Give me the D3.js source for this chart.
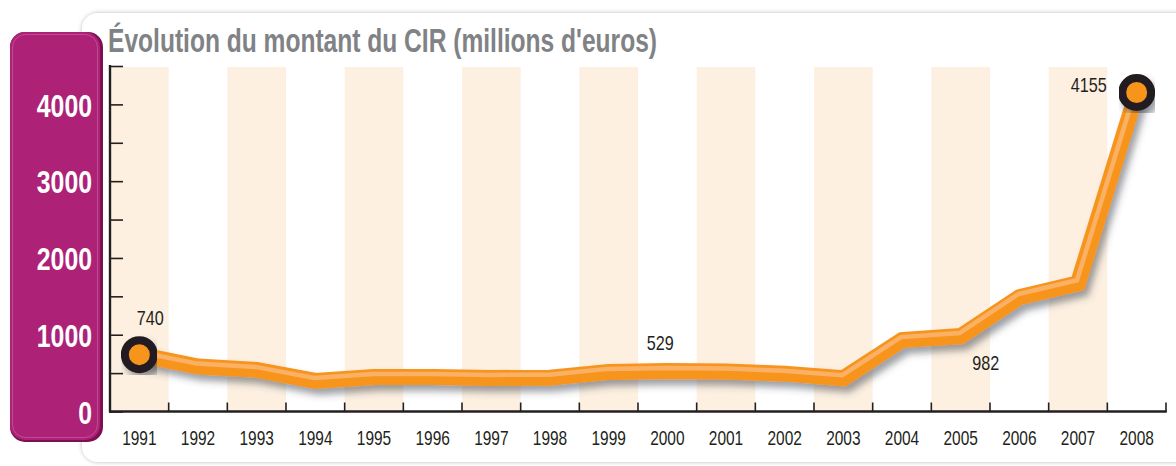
<!DOCTYPE html>
<html lang="fr">
<head>
<meta charset="utf-8">
<script src="https://cdn.jsdelivr.net/npm/d3@7/dist/d3.min.js"></script>
<style>
  html, body { margin: 0; padding: 0; background: #ffffff; }
  svg { display: block; }
  .cond { font-family: "Liberation Sans", Arial, "DejaVu Sans", sans-serif; }
</style>
</head>
<body>
<svg id="chart" width="1176" height="466"></svg>
<script>
// Montant du crédit d'impôt recherche, en millions d'euros
const years = ["1991","1992","1993","1994","1995","1996","1997","1998","1999",
               "2000","2001","2002","2003","2004","2005","2006","2007","2008"];
const amounts = [740, 585, 542, 398, 450, 450, 437, 441, 516,
                 529, 520, 493, 433, 930, 982, 1490, 1670, 4155];
const yTickLabels = [0, 1000, 2000, 3000, 4000];
const yMinorTicks = [0, 500, 1000, 1500, 2000, 2500, 3000, 3500, 4000, 4500];
const labelledYears = ["1991", "2000", "2005", "2008"];
const markerYears = ["1991", "2008"];
const title = "Évolution du montant du CIR (millions d'euros)";

(function draw() {
const svg = d3.select("#chart");
const mLeft = 110, mRight = 1166, mTop = 66, mBottom = 411.5;

// squeeze glyphs horizontally to get a condensed face
function condense(sel, perChar) {
  sel.each(function () {
    const n = this.textContent.length;
    const natural = this.getComputedTextLength();
    const target = n * perChar;
    if (natural > target) {
      this.setAttribute("textLength", target);
      this.setAttribute("lengthAdjust", "spacingAndGlyphs");
    }
  });
}

const defs = svg.append("defs");
const card = defs.append("filter").attr("id", "cardShadow")
  .attr("x", "-5%").attr("y", "-5%").attr("width", "110%").attr("height", "110%");
card.append("feDropShadow").attr("dx", 0).attr("dy", 0).attr("stdDeviation", 2.2)
  .attr("flood-color", "#000").attr("flood-opacity", 0.28);

const lineShadow = defs.append("filter").attr("id", "lineShadow")
  .attr("x", "-10%").attr("y", "-20%").attr("width", "120%").attr("height", "140%");
lineShadow.append("feDropShadow").attr("dx", 4).attr("dy", 6).attr("stdDeviation", 3.5)
  .attr("flood-color", "#3a3f4a").attr("flood-opacity", 0.5);

// white rounded card
svg.append("rect")
  .attr("x", 82).attr("y", 13).attr("width", 1200).attr("height", 449)
  .attr("rx", 16).attr("fill", "#ffffff").attr("filter", "url(#cardShadow)");

// magenta value panel
svg.append("rect")
  .attr("x", 10).attr("y", 32).attr("width", 93).attr("height", 410)
  .attr("rx", 15).attr("fill", "#7c1053");
svg.append("rect")
  .attr("x", 10).attr("y", 32).attr("width", 90).attr("height", 408)
  .attr("rx", 15).attr("fill", "#ad2276");
svg.append("rect")
  .attr("x", 12.5).attr("y", 34.5).attr("width", 85).attr("height", 403)
  .attr("rx", 13).attr("fill", "none").attr("stroke", "#c9659f").attr("stroke-width", 0.8)
  .attr("opacity", 0.8);

const x = d3.scaleBand().domain(years).range([mLeft, mRight]).padding(0);
const y = d3.scaleLinear().domain([0, 4500]).range([mBottom, mTop]);
const cx = d => x(d) + x.bandwidth() / 2;

// alternating background bands
svg.append("g").selectAll("rect")
  .data(years.filter((d, i) => i % 2 === 0))
  .join("rect")
  .attr("x", d => x(d)).attr("y", y(4500) + 1)
  .attr("width", x.bandwidth()).attr("height", y(0) - y(4500) - 1)
  .attr("fill", "#fdf0e1");

// title
const t = svg.append("text").attr("class", "cond")
  .attr("x", 108).attr("y", 52)
  .attr("font-size", 34).attr("font-weight", "bold")
  .attr("fill", "#808285").text(title);
t.attr("textLength", 549).attr("lengthAdjust", "spacingAndGlyphs");

// y axis
const yAxis = d3.axisRight(y).tickValues(yMinorTicks).tickSize(13).tickFormat("");
const gy = svg.append("g").attr("transform", `translate(${mLeft},0)`).call(yAxis);
gy.select(".domain").remove();
gy.selectAll(".tick line").attr("stroke", "#231f20").attr("stroke-width", 1.6);
svg.append("line").attr("x1", mLeft).attr("x2", mLeft)
  .attr("y1", y(4500) - 1).attr("y2", y(0) + 1)
  .attr("stroke", "#231f20").attr("stroke-width", 2.4);

// y labels on the panel
svg.append("g").selectAll("text")
  .data(yTickLabels).join("text").attr("class", "cond")
  .attr("x", 92).attr("y", d => y(d) + 1).attr("dy", "0.36em")
  .attr("text-anchor", "end").attr("font-size", 31).attr("font-weight", "bold")
  .attr("fill", "#ffffff").text(d => d)
  .call(condense, 13.8);

// x axis
const xTickPos = years.map(d => x(d) + x.bandwidth());
const gx = svg.append("g").attr("transform", `translate(0,${mBottom})`);
gx.selectAll("line.tk").data(xTickPos).join("line").attr("class", "tk")
  .attr("x1", d => d).attr("x2", d => d).attr("y1", -9).attr("y2", 0)
  .attr("stroke", "#231f20").attr("stroke-width", 1.6);
gx.append("line").attr("x1", mLeft - 1).attr("x2", mRight + 0.8).attr("y1", 0).attr("y2", 0)
  .attr("stroke", "#231f20").attr("stroke-width", 2.4);
const xAxis = d3.axisBottom(x).tickSize(0).tickPadding(0);
const gxl = svg.append("g").attr("transform", `translate(0,${mBottom})`).call(xAxis);
gxl.select(".domain").remove();
gxl.selectAll(".tick text").attr("class", "cond")
  .attr("y", 33.5).attr("dy", 0)
  .attr("font-size", 21).attr("fill", "#231f20")
  .call(condense, 8.6);

// line
const pts = years.map((d, i) => [cx(d), y(amounts[i])]);
const lineGen = d3.line();
const lg = svg.append("g");
lg.append("path").attr("d", lineGen(pts))
  .attr("fill", "none").attr("stroke", "#f7941d").attr("stroke-width", 16)
  .attr("stroke-linejoin", "miter").attr("filter", "url(#lineShadow)");
lg.append("path").attr("d", lineGen(pts))
  .attr("transform", "translate(-1,-3)")
  .attr("fill", "none").attr("stroke", "#fbb165").attr("stroke-width", 4.5)
  .attr("stroke-linejoin", "miter");

// end markers
svg.append("g").selectAll("circle")
  .data(markerYears).join("circle")
  .attr("cx", d => cx(d)).attr("cy", d => y(amounts[years.indexOf(d)]))
  .attr("r", 14.5).attr("fill", "#f7941d")
  .attr("stroke", "#231f20").attr("stroke-width", 8)
  .attr("filter", "url(#lineShadow)");

// value labels
const labelOffset = {
  "1991": { dx: 11, dy: -30, anchor: "middle" },
  "2000": { dx: -7, dy: -21, anchor: "middle" },
  "2005": { dx: 25, dy: 34, anchor: "middle" },
  "2008": { dx: -30, dy: 0, anchor: "end" }
};
svg.append("g").selectAll("text")
  .data(labelledYears).join("text").attr("class", "cond")
  .attr("x", d => cx(d) + labelOffset[d].dx)
  .attr("y", d => y(amounts[years.indexOf(d)]) + labelOffset[d].dy)
  .attr("text-anchor", d => labelOffset[d].anchor)
  .attr("font-size", 21).attr("fill", "#231f20")
  .text(d => amounts[years.indexOf(d)])
  .call(condense, 9);
})();
</script>
</body>
</html>
